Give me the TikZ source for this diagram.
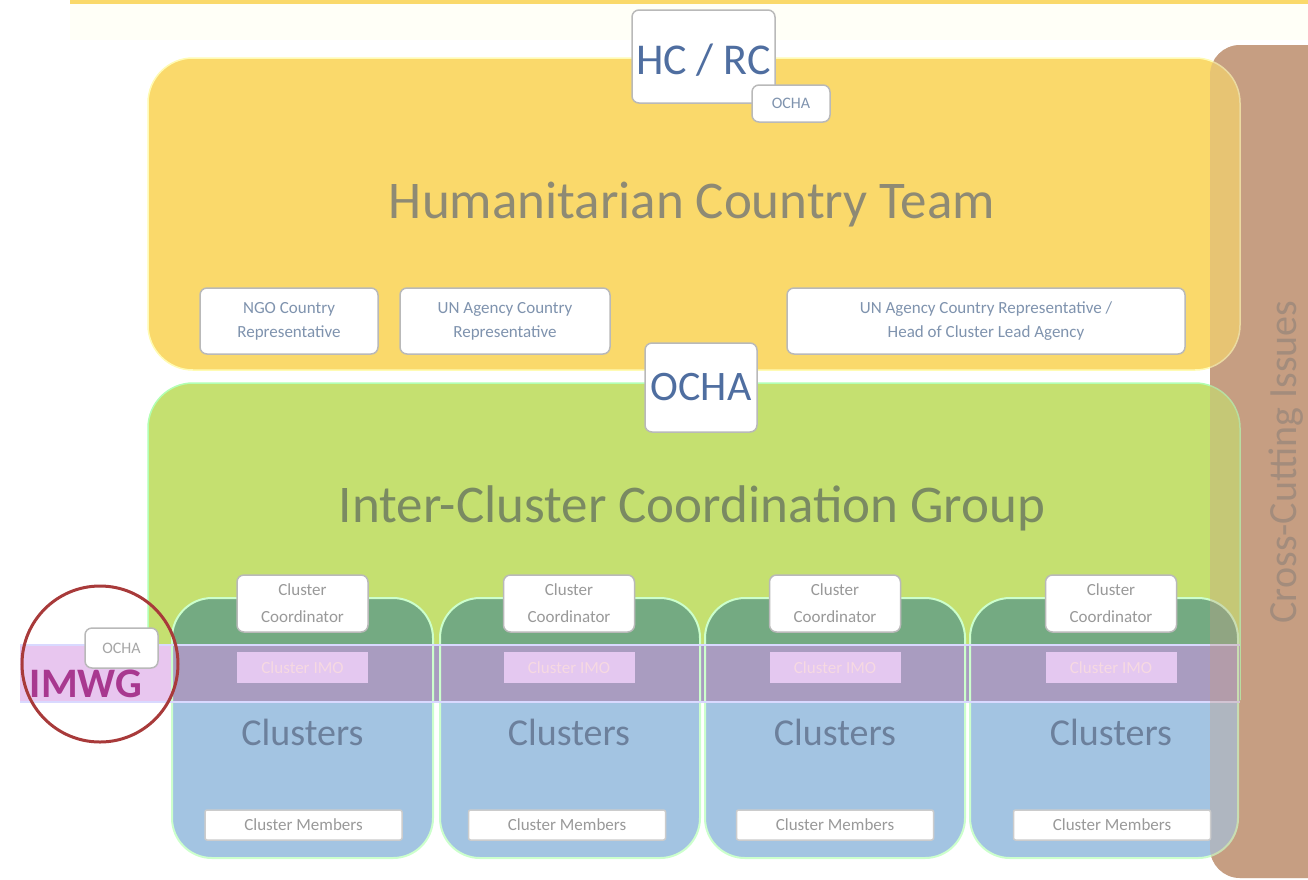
\documentclass[tikz,border=0pt]{standalone}
\usepackage{fontspec}
\setmainfont{Carlito}
\definecolor{hctyellow}{HTML}{FAD96B}
\definecolor{iccggreen}{HTML}{C5E070}
\definecolor{colteal}{HTML}{74AA82}
\definecolor{bandpurple}{HTML}{A99CC0}
\definecolor{bandlight}{HTML}{E8C6EF}
\definecolor{colblue}{HTML}{A3C4E2}
\definecolor{ccbrown}{HTML}{C69E82}
\definecolor{txtblue}{HTML}{4F6EA0}
\definecolor{txtgray}{HTML}{8E8A74}
\definecolor{txtgreen}{HTML}{7A8A62}
\definecolor{txtcl}{HTML}{6C809C}
\definecolor{imwgc}{HTML}{A8388F}
\definecolor{circred}{HTML}{A83A3A}
\definecolor{smalltxt}{HTML}{7F93AE}
\definecolor{imofill}{HTML}{E4C8F0}
\definecolor{cctxt}{HTML}{A38C7C}
\begin{document}
\begin{tikzpicture}[x=1pt,y=-1pt,
  wbox/.style={draw=gray!55,line width=1.5pt,fill=white,rounded corners=7pt,inner sep=0pt,align=center,text=smalltxt},
  smallt/.style={font=\fontsize{17}{24}\selectfont},
  coordbox/.style={wbox,minimum width=131pt,minimum height=57pt,font=\fontsize{17}{27}\selectfont,text=gray!80},
  imobox/.style={draw=none,fill=imofill,inner sep=0pt,minimum width=131pt,minimum height=31pt,font=\fontsize{17}{20}\selectfont,text=white!85!purple},
  membox/.style={wbox,rounded corners=2pt,draw=gray!40,minimum width=197pt,minimum height=30pt,font=\fontsize{17}{20}\selectfont,text=gray!80},
  cltxt/.style={font=\fontsize{38}{44}\selectfont,text=txtcl},
]
\useasboundingbox (0,0) rectangle (1308,879);
% top strip
\fill[hctyellow] (70,0) rectangle (1308,4);
\fill[yellow!3] (70,4) rectangle (1308,40);
% cross-cutting background
\fill[ccbrown,rounded corners=30pt] (1210,45) rectangle (1340,878);
% HCT
\fill[hctyellow,rounded corners=45pt] (148,58) rectangle (1240,370);
\draw[white!70!yellow,line width=1.5pt,rounded corners=45pt] (148,58) rectangle (1240,370);
% ICCG
\fill[iccggreen] (148,700) [rounded corners=45pt] -- (148,383) -- (1240,383) [sharp corners] -- (1240,700) -- cycle;
\draw[white!70!green,line width=1.5pt] (148,700) [rounded corners=45pt] -- (148,383) -- (1240,383) [sharp corners] -- (1240,700);
% clusters columns
\foreach \xa/\xb in {172/433,440/700,705/965,970/1238}{
  \begin{scope}
    \clip[rounded corners=40pt] (\xa,598) rectangle (\xb,858);
    \fill[colblue] (\xa,598) rectangle (\xb,858);
    \fill[colteal] (\xa,598) rectangle (\xb,645);
  \end{scope}
}
% IMWG band
\fill[bandlight] (20,645) rectangle (172,702);
\fill[bandpurple] (172,645) rectangle (1240,702);
\foreach \xa/\xb in {172/433,440/700,705/965,970/1238}{
  \draw[white!80!green,line width=2pt,rounded corners=40pt] (\xa,598) rectangle (\xb,858);
}
\draw[white!85!blue,line width=2pt] (20,645) -- (1240,645);
\draw[white!85!blue,line width=2pt] (20,702) -- (1240,702);
% brown tint over right edge
\fill[ccbrown,fill opacity=0.35,rounded corners=30pt] (1210,45) rectangle (1340,878);
\node[rotate=90,font=\fontsize{40}{46}\selectfont,text=cctxt] (cci) at (1286,462) {Cross-Cutting Issues};
% titles
\node[font=\fontsize{53}{60}\selectfont,text=txtgray] (hct) at (692,205) {Humanitarian Country Team};
\node[font=\fontsize{53}{60}\selectfont,text=txtgreen] (iccg) at (692,508) {Inter-Cluster Coordination Group};
% HC/RC
\node[wbox,minimum width=143pt,minimum height=93pt,font=\fontsize{44}{50}\selectfont,text=txtblue,text depth=0pt] (hcrc) at (703.5,56.5) {\raisebox{-6pt}{HC / RC}};
\node[wbox,minimum width=78pt,minimum height=37pt,font=\fontsize{16}{20}\selectfont] (ochas) at (791,103.5) {OCHA};
% HCT members
\node[wbox,minimum width=178pt,minimum height=66pt,smallt] (ngo) at (289,321) {NGO Country\\Representative};
\node[wbox,minimum width=210pt,minimum height=66pt,smallt] (una) at (505,321) {UN Agency Country\\Representative};
\node[wbox,minimum width=398pt,minimum height=66pt,smallt] (unh) at (986,321) {UN Agency Country Representative /\\Head of Cluster Lead Agency};
% OCHA middle
\node[wbox,minimum width=112pt,minimum height=89pt,font=\fontsize{42}{48}\selectfont,text=txtblue] (ocham) at (701,387.5) {OCHA};
% cluster contents
\foreach \i/\xc/\xm in {1/302.5/303.5,2/569/567,3/835/835,4/1111/1112}{
  \node[coordbox] (cc\i) at (\xc,603.5) {Cluster\\Coordinator};
  \node[imobox] (imo\i) at (\xc,667.5) {Cluster IMO};
  \node[cltxt] (cl\i) at (\xc,732) {Clusters};
  \node[membox] (mem\i) at (\xm,825) {Cluster Members};
}
% IMWG
\node[wbox,minimum width=73pt,minimum height=40pt,font=\fontsize{16}{20}\selectfont,text=gray!70] (ochal) at (121.5,648) {OCHA};
\node[font=\bfseries\fontsize{42}{46}\selectfont,text=imwgc] (imwg) at (86,684) {IMWG};
\node[draw=circred,line width=3pt,circle,minimum size=156pt] (circ) at (100,664) {};
\end{tikzpicture}
\end{document}
